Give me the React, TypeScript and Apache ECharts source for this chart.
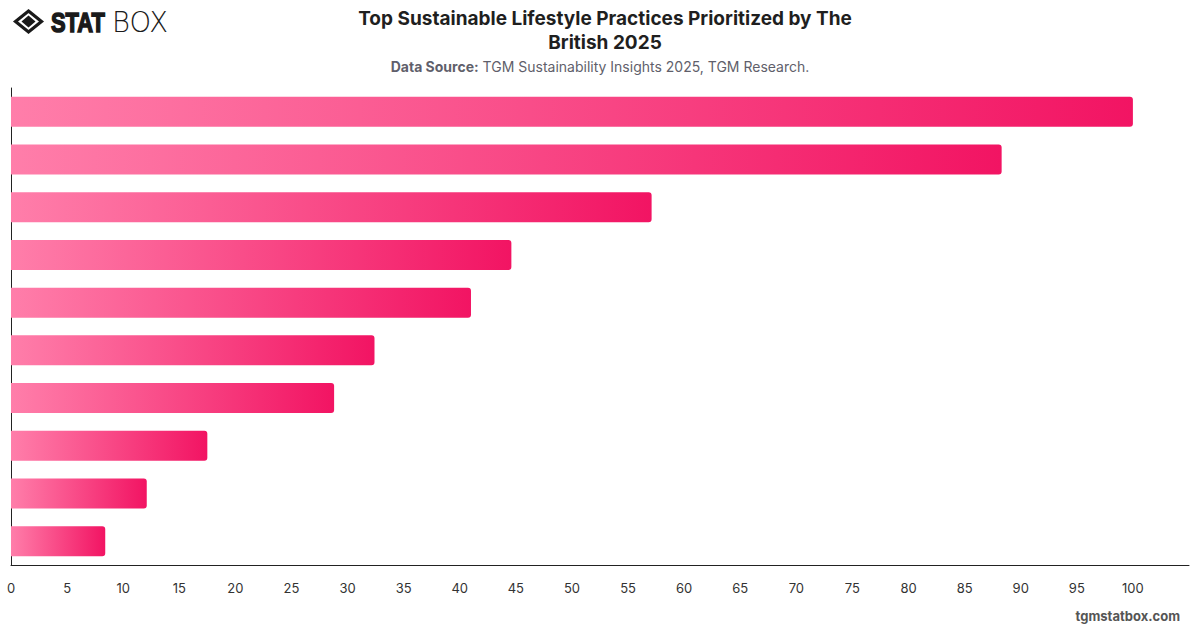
import React, { useEffect, useRef } from "react";
import * as echarts from "echarts";

// Share of respondents prioritising each practice (%)
const practices = [
  "Reducing plastic use",
  "Recycling household waste",
  "Saving energy at home",
  "Reducing food waste",
  "Buying local produce",
  "Using public transport",
  "Buying second-hand items",
  "Eating less meat",
  "Choosing eco-friendly brands",
  "Using renewable energy",
];
const shares = [100, 88.3, 57.1, 44.6, 41.0, 32.4, 28.8, 17.5, 12.1, 8.4];
const axisMax = 105;
const axisStep = 5;

const TITLE = "Top Sustainable Lifestyle Practices Prioritized by The\nBritish 2025";

export default function App() {
  const ref = useRef<HTMLDivElement>(null);

  useEffect(() => {
    if (!ref.current) return;
    const chart = echarts.init(ref.current, null, { renderer: "svg" });

    chart.setOption({
      animation: false,
      backgroundColor: "#ffffff",
      title: {
        text: TITLE,
        left: 600,
        textAlign: "center",
        top: 1,
        textStyle: {
          fontFamily: "Inter, 'Liberation Sans', sans-serif",
          fontSize: 19,
          fontWeight: "bold",
          color: "#1f1f1f",
          lineHeight: 24,
        },
      },
      graphic: [
        {
          type: "text",
          left: "center",
          top: 59,
          style: {
            text: "{b|Data Source:} TGM Sustainability Insights 2025, TGM Research.",
            rich: {
              b: {
                fontFamily: "Inter, 'Liberation Sans', sans-serif",
                fontSize: 14,
                fontWeight: "bold",
                fill: "#5f5f6b",
              },
            },
            font: "14px Inter, 'Liberation Sans', sans-serif",
            fill: "#5f5f6b",
          },
        },
        // logo: diamond mark
        {
          type: "polygon",
          shape: { points: [[28.5, 11], [41.5, 21.5], [28.5, 32], [15.5, 21.5]] },
          style: { fill: "none", stroke: "#1a1a1a", lineWidth: 3.2 },
        },
        {
          type: "polygon",
          shape: { points: [[28.5, 15.5], [35.5, 21.5], [28.5, 27.5], [21.5, 21.5]] },
          style: { fill: "#1a1a1a" },
        },
        {
          type: "text",
          x: 51,
          y: 8,
          scaleX: 0.78,
          style: {
            text: "STAT",
            font: "900 28px 'Liberation Sans', Arial, sans-serif",
            fill: "#1a1a1a",
            stroke: "#1a1a1a",
            lineWidth: 1.6,
          },
        },
        {
          type: "text",
          x: 112,
          y: 8,
          scaleX: 0.98,
          style: {
            text: "BOX",
            font: "200 28px 'DejaVu Sans', sans-serif",
            fill: "#1a1a1a",
          },
        },
        {
          type: "text",
          right: 20,
          top: 609,
          style: {
            text: "tgmstatbox.com",
            font: "bold 13px Inter, 'Liberation Sans', sans-serif",
            fill: "#555555",
          },
        },
      ],
      grid: {
        left: 11,
        right: 11,
        top: 88,
        bottom: 63,
        containLabel: false,
      },
      xAxis: {
        type: "value",
        min: 0,
        max: axisMax,
        interval: axisStep,
        axisLine: { show: true, lineStyle: { color: "#222222", width: 1 } },
        axisTick: { show: false },
        splitLine: { show: false },
        axisLabel: {
          showMaxLabel: false,
          color: "#333333",
          fontSize: 13,
          margin: 16,
          fontFamily: "Inter, 'Liberation Sans', sans-serif",
        },
      },
      yAxis: {
        type: "category",
        inverse: true,
        data: practices,
        axisLine: { show: true, lineStyle: { color: "#222222", width: 1 } },
        axisTick: { show: false },
        axisLabel: { show: false },
      },
      series: [
        {
          type: "bar",
          data: shares,
          barWidth: 30,
          itemStyle: {
            borderRadius: [0, 3, 3, 0],
            color: new echarts.graphic.LinearGradient(0, 0, 1, 0, [
              { offset: 0, color: "#ff7eaa" },
              { offset: 1, color: "#f21463" },
            ]),
          },
        },
      ],
    });

    return () => chart.dispose();
  }, []);

  return (
    <div
      ref={ref}
      style={{ position: "fixed", left: 0, top: 0, width: 1200, height: 628 }}
    />
  );
}
